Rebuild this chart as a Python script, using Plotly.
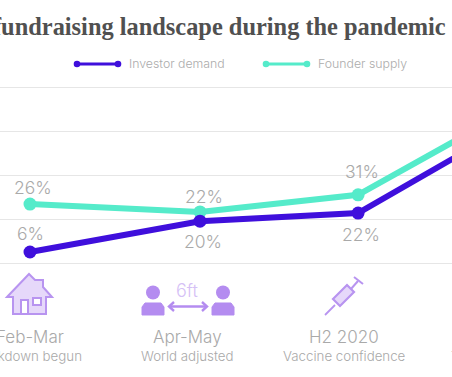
import plotly.graph_objects as go

W, H = 452, 377
periods = ["Feb-Mar", "Apr-May", "H2 2020", "2021"]
subtitles = ["Lockdown begun", "World adjusted", "Vaccine confidence", "T"]
x_pos = [0, 1, 1.93, 2.86]
investor = [5, 19, 22.7, 64]
founder = [26.8, 23.2, 31, 71]
investor_labels = ["6%", "20%", "22%"]
founder_labels = ["26%", "22%", "31%"]
grid_vals = [0, 20, 40, 60, 80]

PURPLE = "#3f0fdc"
TEAL = "#55ebca"
ICON = "#b894f0"
ICON_FILL = "#e6d8fa"
GREY = "#a9a9a9"
FONT = "Inter, sans-serif"

def X(p): return p / W
def Y(p): return 1 - p / H

def path(points, close=False):
    s = "M" + " L".join(f"{X(a):.5f},{Y(b):.5f}" for a, b in points)
    return s + (" Z" if close else "")

shapes, ann = [], []

def poly(points, close=False, fill=None, color=ICON, width=2):
    d = dict(type="path", xref="paper", yref="paper", path=path(points, close),
             line=dict(color=color, width=width), layer="above")
    if fill:
        d["fillcolor"] = fill
    shapes.append(d)

def circle(cx, cy, r, color):
    shapes.append(dict(type="circle", xref="paper", yref="paper", x0=X(cx-r), x1=X(cx+r),
                       y0=Y(cy+r), y1=Y(cy-r), fillcolor=color, line=dict(width=0), layer="above"))

def text(x, y, s, size, color=GREY, anchor="center", family=FONT, weight=300):
    ann.append(dict(xref="paper", yref="paper", x=X(x), y=Y(y), text=s, showarrow=False,
                    xanchor=anchor, yanchor="middle",
                    font=dict(size=size, color=color, family=family, weight=weight)))

# title
text(448, 26, "fundraising landscape during the pandemic", 24.4, "#505050", "right", "Liberation Serif", 700)

# legend
for x0, x1, col, lab, tx in [(77, 118, PURPLE, "Investor demand", 127), (266, 307, TEAL, "Founder supply", 316)]:
    poly([(x0, 64), (x1, 64)], color=col, width=3)
    circle(x0, 64, 3.3, col)
    circle(x1, 64, 3.3, col)
    text(tx, 64, lab, 12.3, "#acacac", "left")

# x labels
for x, p, s in zip([30, 187, 344], periods, subtitles):
    text(x, 337, p, 17)
    text(x + (-2 if x == 30 else 0), 356, s, 13.3)
text(449, 356, subtitles[3], 13.3, anchor="left")

# house icon
poly([(7, 297), (29, 274), (35, 280), (43, 280), (43, 287), (52, 297), (46, 297), (46, 314),
      (13, 314), (13, 297)], True, ICON_FILL)
poly([(21, 314), (21, 300), (28, 300), (28, 314)], True, "#ffffff")
poly([(33, 298), (41, 298), (41, 305), (33, 305)], True, "#ffffff")

# people icon
for cx in (153, 223):
    circle(cx, 292.5, 7, "#b48cf0")
    poly([(cx-11, 315), (cx-11, 307), (cx-8, 303), (cx+8, 303), (cx+11, 307), (cx+11, 315)], True, "#b48cf0",
         color="#b48cf0", width=1)
poly([(169, 306.5), (207, 306.5)], color="#b48cf0", width=2.4)
poly([(174, 302), (169, 306.5), (174, 311)], color="#b48cf0", width=2.4)
poly([(202, 302), (207, 306.5), (202, 311)], color="#b48cf0", width=2.4)
text(187, 290, "6ft", 18, "#d5c1f6")

# syringe icon
poly([(325, 315), (335, 305)], width=1.8)
poly([(333, 299), (347, 285), (354, 292), (340, 306)], True, ICON_FILL, width=2.2)
poly([(351, 289), (358, 281)], width=2)
poly([(354, 277), (363, 284)], width=2)

# value labels
for x, y, s in zip([33, 204, 362], [187, 196, 171], founder_labels):
    text(x, y, s, 17.5)
for x, y, s in zip([31, 203, 361], [233, 241, 235], investor_labels):
    text(x, y, s, 17.5)

fig = go.Figure()
for name, vals, col in [("Founder supply", founder, TEAL), ("Investor demand", investor, PURPLE)]:
    fig.add_trace(go.Scatter(x=x_pos, y=vals, name=name, mode="lines+markers",
                             line=dict(color=col, width=6), marker=dict(color=col, size=13),
                             cliponaxis=False))

k = 176 / 80
fig.update_layout(
    width=W, height=H, margin=dict(l=0, r=0, t=0, b=0), paper_bgcolor="#ffffff", plot_bgcolor="#ffffff",
    showlegend=False, shapes=shapes, annotations=ann, font=dict(family=FONT),
    xaxis=dict(range=[-30/170, 422/170], visible=False, fixedrange=True),
    yaxis=dict(range=[-(H-263)/k, 263/k], tickmode="array", tickvals=grid_vals, showticklabels=False,
               gridcolor="#e6e6e6", gridwidth=1, zeroline=False, ticks="", fixedrange=True),
)
fig.write_html("out.html", config=dict(displayModeBar=False), post_script="document.body.style.margin='0';")
